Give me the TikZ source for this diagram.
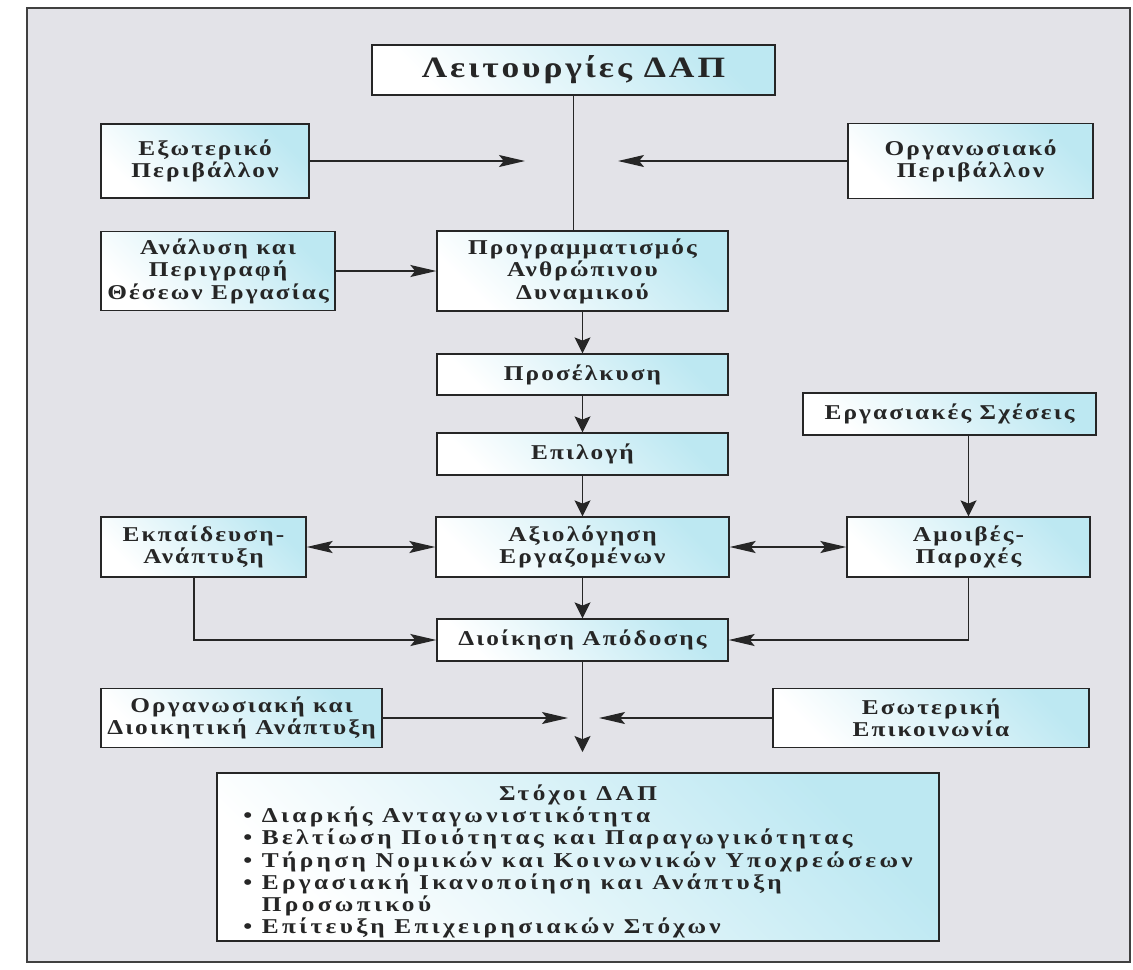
\documentclass[tikz,border=0pt]{standalone}
\usepackage{fontspec}
\setmainfont{Liberation Serif}[LetterSpace=10, FakeStretch=1.2]
\usetikzlibrary{arrows.meta}
\definecolor{bg}{HTML}{E3E3E8}
\definecolor{boxc}{HTML}{BDE8F2}
\definecolor{ink}{HTML}{262626}
\newlength\pxu \setlength\pxu{0.025cm}
\tikzset{
  box/.style={draw=ink, line width=0.9pt, top color=boxc, bottom color=white, shading angle=-45,
    inner sep=0pt, align=center, text=ink, font=\bfseries\fontsize{15}{15.5}\selectfont},
  wh/.style 2 args={minimum width=#1*\pxu, minimum height=#2*\pxu},
  plain/.style={draw=ink, line width=1pt},
  harr/.style={draw=ink, line width=1pt, -{Stealth[length=0.65cm, width=0.3cm, inset=0.12cm]}},
  varr/.style={draw=ink, line width=1pt, -{Stealth[length=0.4cm, width=0.4cm, inset=0.08cm]}},
  dbl/.style={draw=ink, line width=1pt, {Stealth[length=0.65cm, width=0.3cm, inset=0.12cm]}-{Stealth[length=0.65cm, width=0.3cm, inset=0.12cm]}}
}
\begin{document}
\begin{tikzpicture}[x=0.025cm, y=-0.025cm]
\useasboundingbox (0,0) rectangle (1133,969);
\fill[white] (0,0) rectangle (1133,969);
\draw[fill=bg, draw=black!75, line width=0.9pt] (27,8) rectangle (1130,962);

\node[box, wh={403}{50}, font=\bfseries\fontsize{21}{22}\selectfont] (title) at (573.5,70) {Λειτουργίες ΔΑΠ};
\node[box, wh={208}{74}] (ext) at (205,161) {Εξωτερικό\\Περιβάλλον};
\node[box, wh={245}{75}] (org) at (970.5,161) {Οργανωσιακό\\Περιβάλλον};
\node[box, wh={234}{79}, font=\bfseries\fontsize{15}{16}\selectfont] (ana) at (218,271) {Ανάλυση και\\Περιγραφή\\Θέσεων Εργασίας};
\node[box, wh={291}{80}, font=\bfseries\fontsize{15}{16}\selectfont] (prog) at (582.5,271) {Προγραμματισμός\\Ανθρώπινου\\Δυναμικού};
\node[box, wh={291}{41}] (pros) at (582.5,374.5) {Προσέλκυση};
\node[box, wh={291}{42}] (epi) at (582.5,454) {Επιλογή};
\node[box, wh={293}{42}] (ergs) at (949.5,414) {Εργασιακές Σχέσεις};
\node[box, wh={205}{60}] (ekp) at (203.5,547) {Εκπαίδευση-\\Ανάπτυξη};
\node[box, wh={293}{60}] (axi) at (582.5,547) {Αξιολόγηση\\Εργαζομένων};
\node[box, wh={243}{60}] (amoi) at (968.5,547) {Αμοιβές-\\Παροχές};
\node[box, wh={291}{42}] (dio) at (582.5,640) {Διοίκηση Απόδοσης};
\node[box, wh={281}{59}] (odia) at (241.5,718) {Οργανωσιακή και\\Διοικητική Ανάπτυξη};
\node[box, wh={316}{59}] (eso) at (931,718) {Εσωτερική\\Επικοινωνία};
\node[box, wh={722}{168}, font=\bfseries\fontsize{15}{15.5}\selectfont\addfontfeatures{LetterSpace=16}] (stox) at (578,857) {%
\begin{tabular}{@{}l@{}}
\multicolumn{1}{@{}c@{}}{\rule{0pt}{19pt}Στόχοι ΔΑΠ}\\
• Διαρκής Ανταγωνιστικότητα\\
• Βελτίωση Ποιότητας και Παραγωγικότητας\\
• Τήρηση Νομικών και Κοινωνικών Υποχρεώσεων\\
• Εργασιακή Ικανοποίηση και Ανάπτυξη\\
\phantom{• }Προσωπικού\\
• Επίτευξη Επιχειρησιακών Στόχων
\end{tabular}};

\coordinate (extT) at (525,161);
\coordinate (orgT) at (618,161);
\coordinate (odT) at (568,718);
\coordinate (esT) at (599,718);
\coordinate (dioT) at (582.5,752);
\coordinate (ekpK) at (194,640);

\draw[plain] (title.south) -- (title.south |- prog.north);
\draw[harr] (ext.east) -- (extT);
\draw[harr] (org.west) -- (orgT);
\draw[harr] (ana.east) -- (prog.west);
\draw[varr] (prog.south) -- (pros.north);
\draw[varr] (pros.south) -- (epi.north);
\draw[varr] (epi.south) -- (axi.north);
\draw[dbl] (ekp.east) -- (axi.west);
\draw[dbl] (axi.east) -- (amoi.west);
\draw[varr] (ergs.south -| amoi.north) -- (amoi.north);
\draw[varr] (axi.south) -- (dio.north);
\draw[harr] (ekp.south -| ekpK) -- (ekpK) -- (dio.west);
\draw[harr] (amoi.south) -- (amoi.south |- dio.east) -- (dio.east);
\draw[varr] (dio.south) -- (dioT);
\draw[harr] (odia.east) -- (odT);
\draw[harr] (eso.west) -- (esT);
\end{tikzpicture}
\end{document}
